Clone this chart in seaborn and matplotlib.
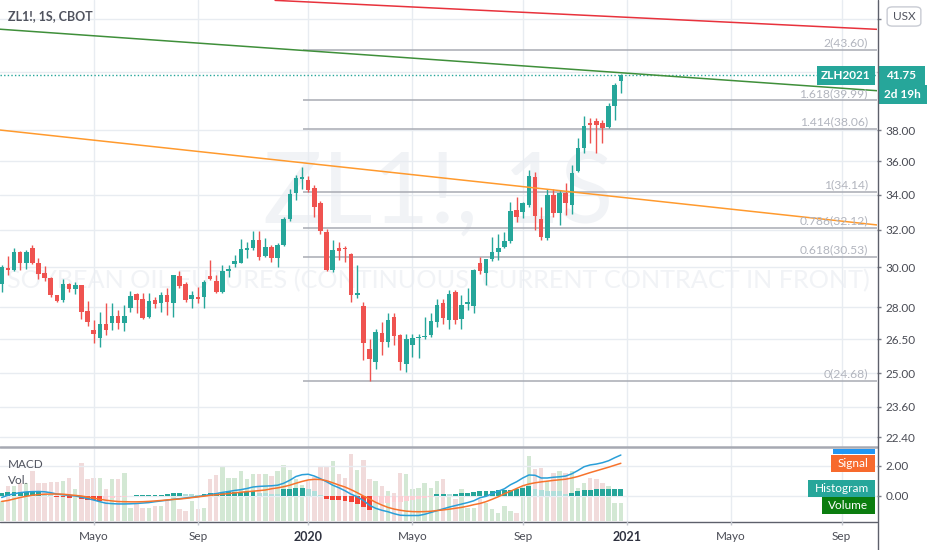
import numpy as np
import pandas as pd
import matplotlib
matplotlib.use("Agg")
import matplotlib.pyplot as plt
import seaborn as sns
from matplotlib.patches import Rectangle, FancyBboxPatch
from matplotlib.lines import Line2D
from matplotlib.ticker import FixedLocator, FuncFormatter, NullLocator

# ---------------- data (weekly ZL1!, CBOT) ----------------
first_week = "2019-01-21"
opens = [29.17, 29.97, 29.85, 30.81, 30.25, 31.04, 30.23, 29.73, 29.43, 28.59,
         28.35, 29.13, 28.88, 29.09, 27.82, 26.95, 26.58, 27.23, 27.28, 27.58,
         27.26, 27.97, 28.64, 28.40, 27.55, 28.35, 28.19, 28.59, 28.22, 29.55,
         29.17, 28.43, 28.51, 28.51, 29.57, 29.30, 28.76, 29.80, 30.15, 30.25,
         30.90, 30.99, 31.44, 30.59, 31.08, 30.49, 31.17, 32.58, 34.10, 34.90,
         34.86, 34.40, 33.49, 31.89, 29.88, 31.00, 31.04, 30.68, 28.59, 28.06,
         26.06, 25.50, 26.81, 26.38, 27.55, 26.72, 25.38, 26.24, 26.56, 26.60,
         26.69, 27.31, 28.22, 27.39, 28.76, 27.44, 28.16, 28.06, 30.20, 29.73,
         30.41, 30.81, 31.08, 31.40, 33.10, 33.00, 33.39, 35.03, 32.60, 31.55,
         33.97, 32.95, 34.11, 33.39, 35.42, 36.86, 38.44, 38.60, 38.44, 38.18,
         39.58, 41.35]
highs = [30.10, 30.58, 31.00, 30.85, 30.90, 31.17, 30.51, 30.06, 29.50, 28.62,
         29.38, 29.18, 29.23, 29.12, 28.32, 27.42, 27.78, 28.19, 28.22, 27.86,
         28.11, 28.80, 28.70, 28.70, 28.70, 28.51, 28.76, 28.93, 29.62, 29.80,
         29.25, 28.79, 29.01, 29.34, 30.37, 29.60, 30.11, 30.11, 30.64, 31.49,
         31.35, 31.93, 31.93, 31.53, 31.20, 31.30, 32.72, 34.36, 35.16, 35.66,
         35.10, 34.56, 33.60, 32.07, 31.44, 31.35, 31.12, 30.73, 30.11, 28.27,
         26.50, 27.00, 27.32, 27.71, 27.74, 26.75, 26.77, 26.77, 26.77, 27.55,
         27.71, 28.43, 28.43, 28.84, 28.84, 28.59, 28.93, 29.90, 30.55, 30.45,
         31.62, 31.75, 31.89, 33.58, 33.87, 33.55, 35.46, 35.36, 33.29, 34.36,
         34.36, 34.26, 34.70, 35.77, 37.46, 38.92, 38.81, 38.77, 38.66, 39.82,
         41.23, 41.83]
lows = [28.73, 29.60, 29.80, 29.88, 29.93, 30.15, 29.38, 29.29, 28.51, 28.25,
        28.25, 28.75, 28.67, 27.44, 27.11, 26.34, 26.16, 26.69, 26.92, 27.00,
        26.90, 27.78, 27.75, 27.45, 27.50, 27.95, 27.78, 27.63, 27.55, 28.93,
        28.27, 27.97, 28.19, 27.97, 29.34, 28.70, 28.70, 29.51, 30.02, 30.20,
        30.51, 30.90, 30.37, 30.55, 30.28, 30.02, 31.10, 32.50, 33.68, 34.36,
        34.17, 32.69, 31.76, 29.80, 29.77, 30.37, 30.28, 28.27, 28.46, 25.57,
        24.68, 25.20, 25.79, 26.16, 26.24, 25.13, 25.06, 25.72, 25.65, 26.50,
        26.60, 27.08, 27.23, 27.00, 27.23, 27.00, 27.86, 27.71, 29.68, 29.09,
        30.35, 30.37, 31.00, 31.26, 32.45, 32.64, 33.30, 31.98, 31.44, 31.44,
        32.72, 32.26, 32.82, 32.91, 35.36, 36.54, 37.18, 36.50, 37.18, 38.11,
        38.66, 40.48]
closes = [30.02, 29.85, 30.81, 30.25, 30.81, 30.20, 29.64, 29.43, 28.59, 28.30,
          29.14, 28.89, 29.09, 27.78, 27.31, 26.73, 27.20, 26.95, 27.58, 27.26,
          27.58, 28.54, 28.35, 27.50, 28.30, 28.16, 28.59, 28.26, 29.60, 29.04,
          28.38, 28.59, 28.40, 29.25, 29.38, 28.76, 29.82, 29.94, 30.33, 30.94,
          30.99, 31.44, 30.55, 31.05, 30.49, 31.17, 32.58, 34.01, 34.96, 35.06,
          34.26, 33.29, 31.93, 29.88, 30.90, 30.86, 30.94, 28.62, 28.72, 26.34,
          25.60, 26.84, 26.38, 27.39, 26.64, 25.50, 26.50, 26.55, 26.63, 26.67,
          27.34, 28.14, 27.48, 28.64, 27.39, 28.11, 28.24, 29.85, 29.82, 30.42,
          30.81, 31.02, 31.40, 33.04, 32.72, 33.51, 35.10, 32.77, 31.62, 33.97,
          32.95, 34.07, 33.53, 35.26, 36.87, 38.26, 38.33, 38.33, 38.15, 39.60,
          41.07, 41.75]
volumes = [60, 105, 105, 115, 115, 150, 113, 113, 117, 118,
           120, 130, 97, 173, 127, 130, 130, 97, 127, 125,
           145, 40, 55, 40, 40, 45, 45, 60, 82, 35,
           30, 60, 35, 40, 127, 137, 165, 130, 130, 150,
           125, 142, 142, 142, 135, 150, 167, 153, 127, 107,
           120, 133, 165, 165, 180, 142, 130, 200, 152, 183,
           125, 120, 105, 90, 85, 145, 142, 97, 98, 115,
           100, 120, 127, 80, 65, 95, 40, 40, 65, 55,
           35, 25, 45, 30, 25, 105, 195, 155, 160, 120,
           145, 150, 145, 150, 100, 115, 130, 125, 115, 105,
           55, 55]
macd = [-0.10, 0.05, 0.15, 0.22, 0.27, 0.29, 0.30, 0.28, 0.22, 0.13,
        0.08, 0.04, 0.00, -0.08, -0.17, -0.27, -0.38, -0.48, -0.51, -0.53,
        -0.53, -0.52, -0.50, -0.47, -0.44, -0.38, -0.33, -0.28, -0.22, -0.18,
        -0.13, -0.08, -0.04, 0.03, 0.10, 0.16, 0.24, 0.30, 0.37, 0.42,
        0.50, 0.60, 0.64, 0.66, 0.68, 0.72, 0.85, 1.05, 1.30, 1.42,
        1.45, 1.33, 1.15, 0.95, 0.72, 0.55, 0.35, 0.12, -0.05, -0.30,
        -0.62, -0.82, -0.95, -1.05, -1.18, -1.28, -1.30, -1.30, -1.30, -1.22,
        -1.10, -0.98, -0.86, -0.74, -0.64, -0.54, -0.44, -0.32, -0.12, -0.02,
        0.15, 0.32, 0.48, 0.75, 0.95, 1.20, 1.40, 1.38, 1.20, 1.20,
        1.25, 1.28, 1.33, 1.48, 1.70, 1.95, 2.07, 2.13, 2.22, 2.35,
        2.55, 2.73]
signal = [-0.36, -0.30, -0.20, -0.10, -0.02, 0.05, 0.09, 0.12, 0.13, 0.13,
          0.12, 0.08, 0.04, 0.00, -0.07, -0.14, -0.22, -0.28, -0.33, -0.37,
          -0.38, -0.39, -0.39, -0.38, -0.36, -0.33, -0.30, -0.26, -0.23, -0.20,
          -0.16, -0.11, -0.06, -0.01, 0.04, 0.08, 0.12, 0.16, 0.21, 0.25,
          0.29, 0.32, 0.36, 0.40, 0.48, 0.54, 0.62, 0.72, 0.85, 0.97,
          1.07, 1.11, 1.10, 1.02, 0.88, 0.73, 0.60, 0.42, 0.22, 0.00,
          -0.20, -0.42, -0.60, -0.76, -0.87, -0.95, -1.01, -1.04, -1.05, -1.04,
          -1.02, -0.97, -0.93, -0.88, -0.82, -0.76, -0.68, -0.58, -0.50, -0.38,
          -0.22, -0.05, 0.15, 0.32, 0.50, 0.68, 0.80, 0.88, 0.94, 0.99,
          1.04, 1.08, 1.12, 1.20, 1.30, 1.43, 1.56, 1.68, 1.80, 1.92,
          2.05, 2.18]
hist = [0.22, 0.25, 0.27, 0.28, 0.29, 0.30, 0.31, 0.08, 0.04, -0.06,
        -0.10, -0.13, -0.08, -0.18, -0.25, -0.30, -0.35, -0.22, -0.15, -0.10,
        -0.05, 0.03, 0.05, 0.06, 0.07, 0.08, 0.09, 0.12, 0.20, 0.22,
        0.12, 0.10, 0.08, 0.14, 0.17, 0.20, 0.22, 0.24, 0.25, 0.27,
        0.28, 0.30, 0.20, 0.18, 0.15, 0.12, 0.45, 0.48, 0.50, 0.52,
        0.48, 0.35, 0.05, -0.22, -0.25, -0.28, -0.32, -0.38, -0.55, -0.75,
        -0.93, -0.50, -0.47, -0.44, -0.41, -0.37, -0.32, -0.27, -0.21, -0.15,
        -0.07, 0.10, 0.15, 0.14, 0.15, 0.17, 0.22, 0.28, 0.32, 0.34,
        0.36, 0.38, 0.40, 0.43, 0.46, 0.50, 0.66, 0.48, 0.40, 0.36,
        0.33, 0.30, 0.15, 0.22, 0.36, 0.40, 0.42, 0.44, 0.45, 0.46,
        0.47, 0.48]

tick_dates = ["2019-05-06", "2019-09-02", "2020-01-06", "2020-05-04",
              "2020-09-07", "2021-01-04", "2021-05-03", "2021-09-06"]
tick_labels = ["Mayo", "Sep", "2020", "Mayo", "Sep", "2021", "Mayo", "Sep"]
price_ticks = [22.40, 23.60, 25.00, 26.50, 28.00, 30.00, 32.00, 34.00, 36.00, 38.00, 42.00, 46.00]
hidden_price_labels = [42.00, 46.00]   # covered by the price / currency badges
macd_ticks = [0.0, 2.0]

fib_ratios = ["0", "0.618", "0.786", "1", "1.414", "1.618", "2"]
fib_prices = [24.68, 30.53, 32.12, 34.14, 38.06, 39.99, 43.60]
fib_anchor_week = 49.15

green_weeks, green_prices = [-0.3, 142.8], [45.20, 40.66]
red_weeks, red_prices = [44.6, 142.8], [47.50, 45.19]
orange_weeks, orange_prices = [-0.3, 142.8], [38.00, 32.27]

symbol_title = "ZL1!, 1S, CBOT"
watermark_big = "ZL1!, 1S"
watermark_sub = "SOYBEAN OIL FUTURES (CONTINUOUS: CURRENT CONTRACT IN FRONT)"
contract = "ZLH2021"
countdown = "2d 19h"

# ---------------- styling ----------------
sns.set_theme(style="white")
plt.rcParams['font.family'] = ['Lato', 'DejaVu Sans']

TEAL = "#26a69a"
RED = "#ef5350"
GRID = "#e8ecf1"
TXT = "#4a4c55"
W, H = 932, 550
PANE_R = 877


def fx(x):
    return x / W


def fy(y):
    return 1 - y / H


fig = plt.figure(figsize=(W / 100, H / 100), dpi=100)
fig.patch.set_facecolor("white")

ax = fig.add_axes([0, fy(447), fx(PANE_R), 447 / H])
axv = fig.add_axes([0, fy(521), fx(PANE_R), 72 / H], zorder=1)
axm = fig.add_axes([0, fy(521), fx(PANE_R), 72 / H], zorder=2)
axm.patch.set_alpha(0)

weeks = np.arange(len(closes))
o = np.array(opens); c = np.array(closes); hi = np.array(highs); lo = np.array(lows)
up = c >= o
cols = np.where(up, TEAL, RED)
start = pd.Timestamp(first_week)
tick_weeks = [(pd.Timestamp(d) - start).days / 7 for d in tick_dates]
XMIN, XMAX = -0.28, 142.79

# ---------------- main pane ----------------
ax.set_yscale("log")
ax.set_xlim(XMIN, XMAX)
ax.set_ylim(22.02, 47.53)

ax.vlines(weeks, lo, hi, colors=cols, lw=1.0, zorder=3)
body_h = np.maximum(np.abs(c - o), c * 0.0025)
ax.bar(weeks, body_h, bottom=np.minimum(o, c), width=0.74, color=cols, lw=0, zorder=4)

# trendlines
sns.lineplot(x=green_weeks, y=green_prices, ax=ax, color="#3f8f3a", lw=1.1, zorder=5)
sns.lineplot(x=red_weeks, y=red_prices, ax=ax, color="#e8323c", lw=1.1, zorder=5)
sns.lineplot(x=orange_weeks, y=orange_prices, ax=ax, color="#ff9a2e", lw=1.1, zorder=5)

# fib levels
for r, p in zip(fib_ratios, fib_prices):
    ax.hlines(p, fib_anchor_week, XMAX, color="#a8abb3", lw=1.1, zorder=2)
    ax.annotate(f"{r}({p:.2f})", xy=(141.3, p), xytext=(0, 1.5), textcoords="offset pixels",
                ha="right", va="bottom", fontsize=8.7, color="#b2b5be", zorder=6)

# last price dotted line
ax.axhline(c[-1], color=TEAL, lw=1.0, ls=(0, (1.0, 1.6)), zorder=2)

# grid & ticks
ax.set_xticks(tick_weeks)
ax.tick_params(axis="x", length=0, labelbottom=False)
ax.yaxis.tick_right()
ax.yaxis.set_major_locator(FixedLocator(price_ticks))
ax.yaxis.set_minor_locator(NullLocator())
ax.yaxis.set_major_formatter(FuncFormatter(
    lambda v, _: "" if any(abs(v - h) < 1e-6 for h in hidden_price_labels) else f"{v:.2f}"))
ax.tick_params(axis="y", length=3, width=1, color="#787b86", pad=3, labelsize=8.5,
               labelcolor=TXT, right=True, left=False)
ax.grid(True, color=GRID, lw=1)
ax.set_axisbelow(True)
for s in ax.spines.values():
    s.set_visible(False)
ax.set_xlabel(""); ax.set_ylabel("")

# watermarks
wm1 = ax.text(0.5, 1 - 223 / 447, watermark_big, transform=ax.transAxes, ha="center",
              va="baseline", fontsize=75, color="#f1f3f6", zorder=0.1)
wm2 = ax.text(0.5, 1 - 288 / 447, watermark_sub, transform=ax.transAxes, ha="center",
              va="baseline", fontsize=18, color="#f1f3f6", zorder=0.1)
fig.canvas.draw()
r = fig.canvas.get_renderer()
wm1.set_fontsize(75 * 350 / wm1.get_window_extent(r).width)
wm2.set_fontsize(18 * 862 / wm2.get_window_extent(r).width)

# ---------------- MACD pane ----------------
vol_cols = np.where(up, "#d3e8d4", "#f1dbdb")
axv.bar(weeks, volumes, width=0.72, color=vol_cols, lw=0)
axv.set_xlim(XMIN, XMAX)
axv.set_ylim(0, 216)
axv.axis("off")

hcols = []
for k, h in enumerate(hist):
    prev = hist[k - 1] if k > 0 else h - 1
    if h >= 0:
        hcols.append(TEAL if h > prev else "#b2dfdb")
    else:
        hcols.append("#fbcfd3" if h > prev else "#f44336")
axm.bar(weeks, hist, width=0.8, color=hcols, lw=0, zorder=2)
sns.lineplot(x=weeks, y=macd, ax=axm, color="#2a9fd8", lw=1.1, zorder=3)
sns.lineplot(x=weeks, y=signal, ax=axm, color="#f7732c", lw=1.1, zorder=3)
axm.set_xlim(XMIN, XMAX)
axm.set_ylim(-1.667, 3.133)
axm.set_xlabel(""); axm.set_ylabel("")
axm.yaxis.tick_right()
axm.set_yticks(macd_ticks)
axm.yaxis.set_major_formatter(FuncFormatter(lambda v, _: f"{v:.2f}"))
axm.tick_params(axis="y", length=3, width=1, color="#787b86", pad=3, labelsize=8.5,
                labelcolor=TXT, right=True, left=False)
axm.set_xticks(tick_weeks)
axm.set_xticklabels(tick_labels)
axm.tick_params(axis="x", length=3, width=1, color="#c5c8d0", pad=4.5, labelsize=8.5,
                labelcolor=TXT, bottom=True)
for lab in axm.get_xticklabels():
    if lab.get_text().isdigit():
        lab.set_fontweight("bold")
        lab.set_color("#2f3240")
        lab.set_fontsize(9)
axm.grid(True, color=GRID, lw=1)
for s in axm.spines.values():
    s.set_visible(False)

# ---------------- frame lines ----------------
fig.add_artist(Line2D([0, fx(PANE_R)], [fy(446.8), fy(446.8)], color="#a6a9b2", lw=1.8))
fig.add_artist(Line2D([0, fx(PANE_R)], [fy(521.5), fy(521.5)], color="#5d606b", lw=1.0))
fig.add_artist(Line2D([fx(PANE_R + 0.5), fx(PANE_R + 0.5)], [0, 1], color="#5d606b", lw=1.0))

# ---------------- labels ----------------
fig.text(fx(8), fy(16.5), symbol_title, fontsize=9, fontweight="bold", color="#50535e",
         va="center", ha="left")
fig.text(fx(8), fy(464), "MACD", fontsize=8.5, color="#50535e", va="center", ha="left")
fig.text(fx(8), fy(480), "Vol.", fontsize=8.5, color="#50535e", va="center", ha="left")


def box(x0, y0, x1, y1, text, fc, tc="white", host=None, fs=8.5, weight="normal"):
    rect = Rectangle((fx(x0), fy(y1)), fx(x1) - fx(x0), (y1 - y0) / H,
                     transform=fig.transFigure, facecolor=fc, edgecolor="none")
    if host is not None:
        host.add_patch(rect)
        host.text(fx((x0 + x1) / 2), fy((y0 + y1) / 2), text, transform=fig.transFigure,
                  ha="center", va="center", color=tc, fontsize=fs, fontweight=weight,
                  clip_on=True, zorder=10)
    else:
        fig.add_artist(rect)
        fig.text(fx((x0 + x1) / 2), fy((y0 + y1) / 2), text, ha="center", va="center",
                 color=tc, fontsize=fs, fontweight=weight, zorder=10)


yc = H - ax.transData.transform((0, c[-1]))[1]
box(817, yc - 9.5, 875, yc + 9.5, contract, TEAL, fs=8.5, weight="bold")
box(878, yc - 9.5, 925, yc + 9.5, f"{c[-1]:.2f}", TEAL, fs=8.5, weight="bold")
box(878, yc + 9.5, 927, yc + 28.5, countdown, TEAL, fs=8.5, weight="bold")

usx = FancyBboxPatch((fx(889), fy(25)), fx(919) - fx(889), 17 / H,
                     boxstyle="round,pad=0.002,rounding_size=0.006",
                     transform=fig.transFigure, facecolor="white", edgecolor="#c8cbd3", lw=1)
fig.add_artist(usx)
fig.text(fx(904), fy(16.3), "USX", ha="center", va="center", fontsize=8.5, color="#50535e")

box(833, 437, 875, 454, "MACD", "#2196f3", host=axm)
box(831, 455, 875, 472, "Signal", "#f76a2d", host=axm)
box(808, 480, 875, 497, "Histogram", TEAL, host=axm)
box(822, 497, 875, 514, "Volume", "#0b7d0f", host=axm)

fig.savefig("out.png", dpi=100, facecolor="white")
